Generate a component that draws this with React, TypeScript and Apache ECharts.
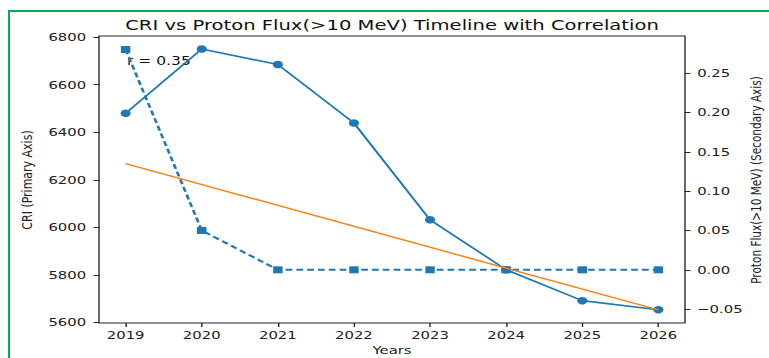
import React, { useEffect, useRef } from "react";
import * as echarts from "echarts";

const years = [2019, 2020, 2021, 2022, 2023, 2024, 2025, 2026];
const criValues = [6480, 6750, 6685, 6439, 6032, 5822, 5692, 5654];
const protonValues = [0.28, 0.05, 0, 0, 0, 0, 0, 0];
const trendYears = [2019, 2026];
const trendValues = [0.135, -0.051];
const criTicks = [5600, 5800, 6000, 6200, 6400, 6600, 6800];
const protonTicks = [-0.05, 0, 0.05, 0.1, 0.15, 0.2, 0.25];
const titleText = "CRI vs Proton Flux(>10 MeV) Timeline with Correlation";
const corrText = "r = 0.35";

const K = 1.35; // horizontal stretch of the reference image
const FULL_W = 769;
const H = 358;
const W = FULL_W / K;
const FONT = "DejaVu Sans";
const ox = (x: number) => x / K;

export default function App() {
  const ref = useRef<HTMLDivElement>(null);
  useEffect(() => {
    if (!ref.current) return;
    const chart = echarts.init(ref.current, null, { renderer: "svg", width: W, height: H });
    const textColor = "#222";
    chart.setOption({
      animation: false,
      backgroundColor: "#fff",
      grid: {
        left: ox(99),
        right: W - ox(685),
        top: 36,
        bottom: H - 323,
        containLabel: false,
        show: true,
        borderColor: "#222",
        borderWidth: 1,
        backgroundColor: "transparent",
      },
      xAxis: {
        type: "value",
        min: 2018.65,
        max: 2026.35,
        axisLine: { show: false, onZero: false },
        splitLine: { show: false },
        axisTick: { show: true, length: 4, customValues: years, lineStyle: { color: "#222" } },
        axisLabel: {
          customValues: years,
          margin: 7,
          fontSize: 11,
          fontFamily: FONT,
          color: textColor,
          formatter: (v: number) => String(Math.round(v)),
        },
      },
      yAxis: [
        {
          type: "value",
          min: 5598,
          max: 6805,
          position: "left",
          axisLine: { show: false, onZero: false },
          splitLine: { show: false },
          axisTick: { show: true, length: 4, customValues: criTicks, lineStyle: { color: "#222" } },
          axisLabel: {
            customValues: criTicks,
            margin: 9.5,
            fontSize: 11,
            fontFamily: FONT,
            color: textColor,
            formatter: (v: number) => String(Math.round(v)),
          },
        },
        {
          type: "value",
          min: -0.0676,
          max: 0.2972,
          position: "right",
          axisLine: { show: false, onZero: false },
          splitLine: { show: false },
          axisTick: { show: true, length: 4, customValues: protonTicks, lineStyle: { color: "#222" } },
          axisLabel: {
            customValues: protonTicks,
            margin: 9,
            fontSize: 11,
            fontFamily: FONT,
            color: textColor,
            formatter: (v: number) => v.toFixed(2).replace("-", "\u2212"),
          },
        },
      ],
      graphic: [
        {
          type: "text",
          x: ox(392),
          y: 25,
          z: 10,
          style: {
            text: titleText,
            fontSize: 14.5,
            fontFamily: FONT,
            fill: "#111",
            textAlign: "center",
            textVerticalAlign: "middle",
          },
        },
        {
          type: "text",
          x: ox(127),
          y: 61,
          z: 0,
          style: {
            text: corrText,
            fontSize: 11.5,
            fontFamily: FONT,
            fill: "#111",
            textAlign: "left",
            textVerticalAlign: "middle",
          },
        },
        {
          type: "text",
          x: ox(392),
          y: 350,
          style: {
            text: "Years",
            fontSize: 11,
            fontFamily: FONT,
            fill: textColor,
            textAlign: "center",
            textVerticalAlign: "middle",
          },
        },
        {
          type: "text",
          x: ox(27),
          y: 180,
          rotation: Math.PI / 2,
          style: {
            text: "CRI (Primary Axis)",
            fontSize: 11,
            fontFamily: FONT,
            fill: textColor,
            textAlign: "center",
            textVerticalAlign: "middle",
          },
        },
        {
          type: "text",
          x: ox(756),
          y: 180,
          rotation: Math.PI / 2,
          style: {
            text: "Proton Flux(>10 MeV) (Secondary Axis)",
            fontSize: 10.5,
            fontFamily: FONT,
            fill: textColor,
            textAlign: "center",
            textVerticalAlign: "middle",
          },
        },
      ],
      series: [
        {
          name: "CRI",
          type: "line",
          xAxisIndex: 0,
          yAxisIndex: 0,
          data: years.map((y, i) => [y, criValues[i]]),
          symbol: "circle",
          symbolSize: 7.5,
          showSymbol: true,
          lineStyle: { color: "#1f77b4", width: 1.6 },
          itemStyle: { color: "#1f77b4" },
          z: 3,
        },
        {
          name: "Proton Flux",
          type: "line",
          xAxisIndex: 0,
          yAxisIndex: 1,
          data: years.map((y, i) => [y, protonValues[i]]),
          symbol: "rect",
          symbolSize: 7,
          showSymbol: true,
          lineStyle: { color: "#1f77b4", width: 2, type: [5, 3] },
          itemStyle: { color: "#1f77b4" },
          z: 4,
        },
        {
          name: "Trend",
          type: "line",
          xAxisIndex: 0,
          yAxisIndex: 1,
          data: trendYears.map((y, i) => [y, trendValues[i]]),
          symbol: "none",
          lineStyle: { color: "#ff7f0e", width: 1.4 },
          z: 5,
        },
      ],
    });
    return () => chart.dispose();
  }, []);

  return (
    <div
      style={{
        position: "fixed",
        left: 0,
        top: 0,
        width: FULL_W,
        height: H,
        overflow: "hidden",
        background: "#fff",
      }}
    >
      <div
        ref={ref}
        style={{
          position: "absolute",
          left: 0,
          top: 0,
          width: W,
          height: H,
          transform: `scaleX(${K})`,
          transformOrigin: "0 0",
        }}
      />
      <div
        style={{
          position: "absolute",
          left: 8,
          top: 10,
          width: 900,
          height: 500,
          borderTop: "2px solid #00b050",
          borderLeft: "2px solid #00b050",
          pointerEvents: "none",
        }}
      />
    </div>
  );
}
